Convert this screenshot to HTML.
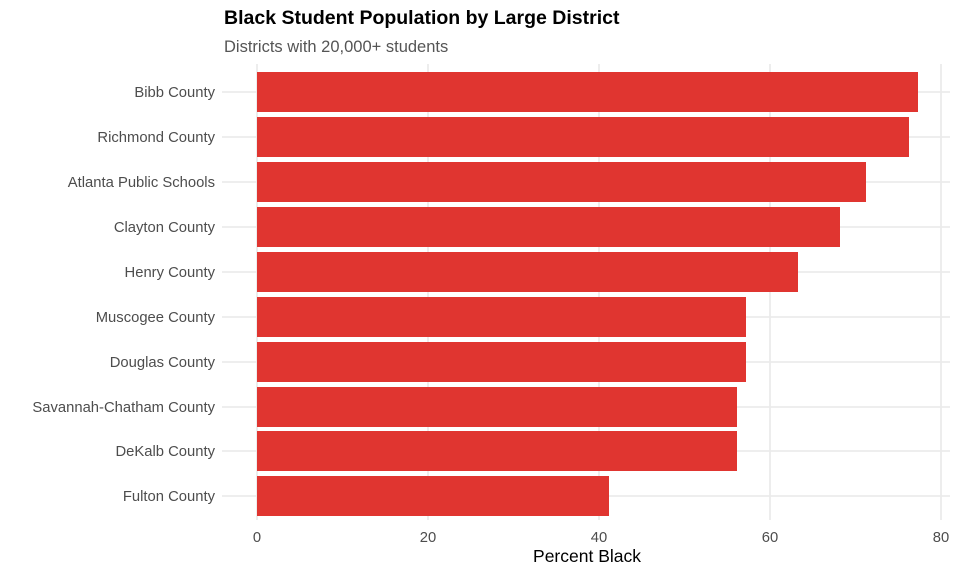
<!DOCTYPE html>
<html><head><style>body{margin:0;background:#fff}svg{display:block}text{font-family:"Liberation Sans",sans-serif}</style></head>
<body>
<svg width="960" height="576" viewBox="0 0 960 576">
<g stroke="#ebebeb" stroke-width="1.8">
<line x1="257" y1="64" x2="257" y2="520"/><line x1="428" y1="64" x2="428" y2="520"/><line x1="599" y1="64" x2="599" y2="520"/><line x1="770" y1="64" x2="770" y2="520"/><line x1="941" y1="64" x2="941" y2="520"/>
<line x1="222" y1="92" x2="950" y2="92"/><line x1="222" y1="137" x2="950" y2="137"/><line x1="222" y1="182" x2="950" y2="182"/><line x1="222" y1="227" x2="950" y2="227"/><line x1="222" y1="272" x2="950" y2="272"/><line x1="222" y1="317" x2="950" y2="317"/><line x1="222" y1="362" x2="950" y2="362"/><line x1="222" y1="407" x2="950" y2="407"/><line x1="222" y1="451" x2="950" y2="451"/><line x1="222" y1="496" x2="950" y2="496"/>
</g>
<g fill="#e03530">
<rect x="257" y="72" width="661" height="40"/><rect x="257" y="117" width="652" height="40"/><rect x="257" y="162" width="609" height="40"/><rect x="257" y="207" width="583" height="40"/><rect x="257" y="252" width="541" height="40"/><rect x="257" y="297" width="489" height="40"/><rect x="257" y="342" width="489" height="40"/><rect x="257" y="387" width="480" height="40"/><rect x="257" y="431" width="480" height="40"/><rect x="257" y="476" width="352" height="40"/>
</g>
<g font-size="14.8" fill="#4d4d4d" text-anchor="end">
<text x="215" y="97">Bibb County</text><text x="215" y="142">Richmond County</text><text x="215" y="187">Atlanta Public Schools</text><text x="215" y="232">Clayton County</text><text x="215" y="277">Henry County</text><text x="215" y="322">Muscogee County</text><text x="215" y="367">Douglas County</text><text x="215" y="412">Savannah-Chatham County</text><text x="215" y="456">DeKalb County</text><text x="215" y="501">Fulton County</text>
</g>
<g font-size="14.8" fill="#4d4d4d" text-anchor="middle">
<text x="257" y="542">0</text><text x="428" y="542">20</text><text x="599" y="542">40</text><text x="770" y="542">60</text><text x="941" y="542">80</text>
</g>
<text x="587" y="562" font-size="17.5" text-anchor="middle" fill="#000">Percent Black</text>
<text x="224" y="24" font-size="19.5" font-weight="bold" fill="#000">Black Student Population by Large District</text>
<text x="224" y="52" font-size="16.5" fill="#555">Districts with 20,000+ students</text>
</svg>
</body></html>
